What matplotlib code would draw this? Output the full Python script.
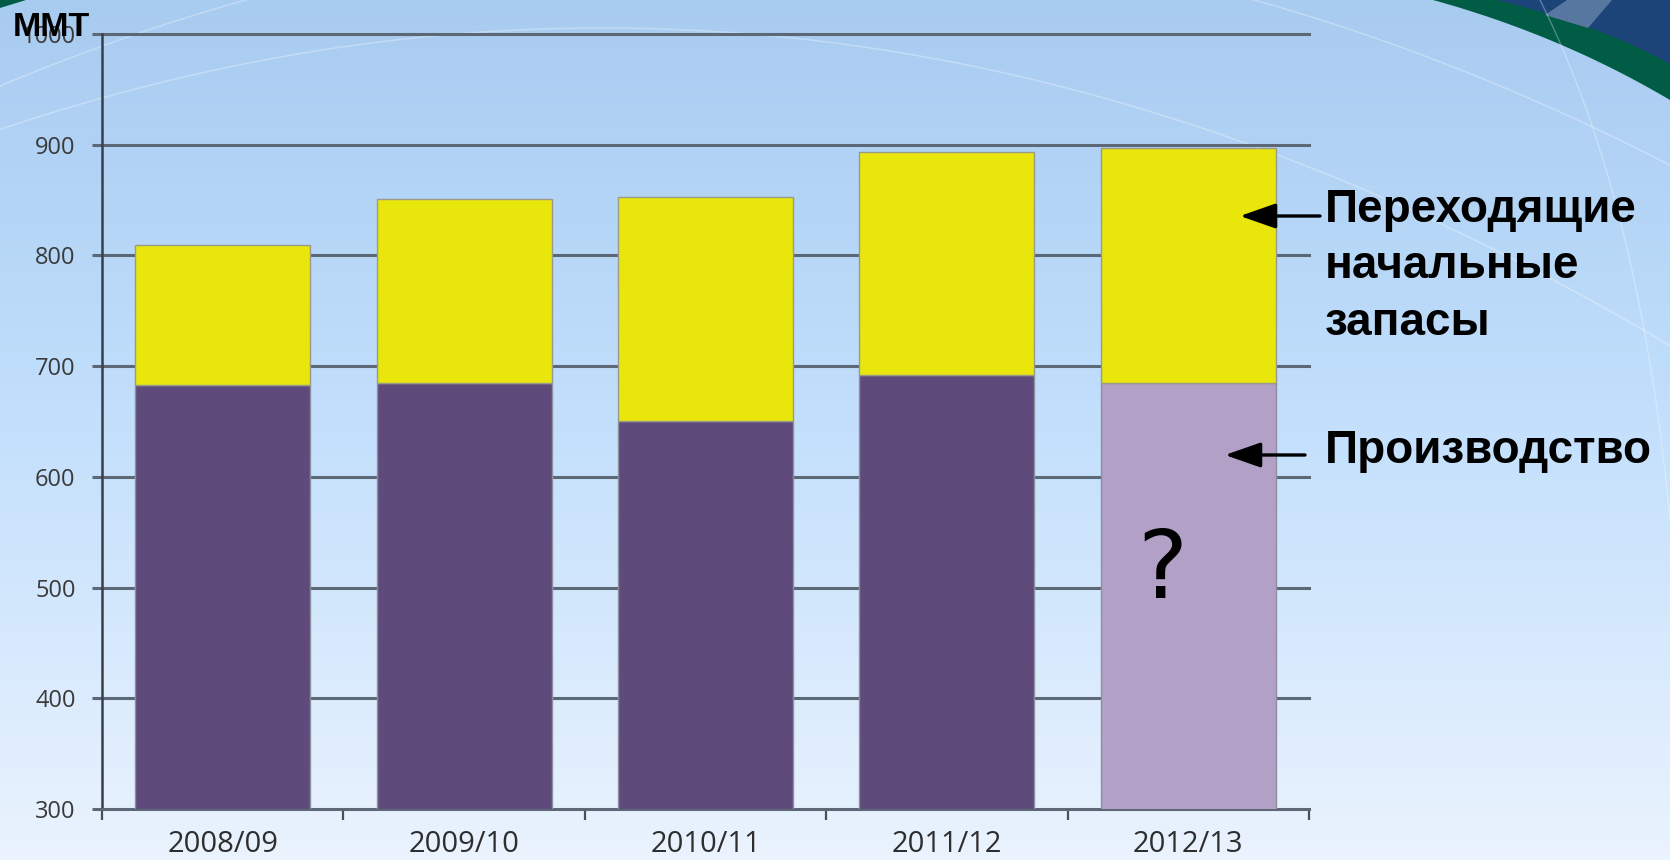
import numpy as np
import matplotlib
matplotlib.use("Agg")
import matplotlib.pyplot as plt
from matplotlib.patches import Polygon, FancyArrowPatch
from matplotlib.colors import LinearSegmentedColormap

# ---------------- data ----------------
seasons = ['2008/09', '2009/10', '2010/11', '2011/12', '2012/13']
production = [683, 685, 650, 692, 685]          # ММТ
carryover = [126, 166, 203, 201, 212]           # начальные запасы
forecast = [False, False, False, False, True]
yticks = [300, 400, 500, 600, 700, 800, 900, 1000]
unit_label = 'ММТ'
label_stocks = ['Переходящие', 'начальные', 'запасы']
label_prod = 'Производство'
question = '?'

W, H = 1670, 860
fig = plt.figure(figsize=(W / 100, H / 100), dpi=100)

# ---------------- background ----------------
bg = fig.add_axes([0, 0, 1, 1], zorder=-10)
cmap = LinearSegmentedColormap.from_list(
    'bg', [(0.0, '#A8CBF0'), (0.45, '#C0DEFC'), (1.0, '#EAF3FE')])
grad = np.linspace(0, 1, 256)[:, None]
bg.imshow(grad, aspect='auto', cmap=cmap, extent=[0, W, H, 0], interpolation='bilinear')
bg.set_xlim(0, W)
bg.set_ylim(H, 0)
bg.axis('off')


def qcurve(p0, p1, p2, n=80):
    t = np.linspace(0, 1, n)[:, None]
    p0, p1, p2 = map(np.array, (p0, p1, p2))
    return (1 - t) ** 2 * p0 + 2 * (1 - t) * t * p1 + t ** 2 * p2

# faint white arcs (decoration of the slide background)
xs = np.linspace(0, W, 400)
for y0, c in [(-71, 750), (28, 603)]:
    ys = y0 + 2.79e-4 * (xs - c) ** 2
    bg.plot(xs, ys, color='white', lw=1.1, alpha=0.3)
pts = qcurve((1540, 0), (1640, 200), (1670, 520))
bg.plot(pts[:, 0], pts[:, 1], color='white', lw=1.0, alpha=0.3)

# top-right decoration: dark blue + green band
green_low = qcurve((1433, 0), (1560, 35), (1670, 100))
green_up = qcurve((1497, 0), (1600, 25), (1670, 64))
bg.add_patch(Polygon(np.vstack([green_low, [[1670, 0]]]), closed=True,
                     facecolor='#005C45', edgecolor='none'))
bg.add_patch(Polygon(np.vstack([green_up, [[1670, 0]]]), closed=True,
                     facecolor='#1C4479', edgecolor='none'))
bg.add_patch(Polygon([[1545, 15], [1567, 0], [1612, 0], [1588, 28]], closed=True,
                     facecolor='#5877A0', edgecolor='none'))
# top-left tiny green corner
bg.add_patch(Polygon([[0, 0], [26, 0], [0, 8]], closed=True,
                     facecolor='#005C45', edgecolor='none'))

# ---------------- main chart ----------------
x0, x1, ytop, ybot = 102, 1309, 34, 809
ax = fig.add_axes([x0 / W, 1 - ybot / H, (x1 - x0) / W, (ybot - ytop) / H])
ax.set_facecolor('none')

x = np.arange(len(seasons))
prod_colors = ['#B2A0C7' if f else '#5E4A7B' for f in forecast]
bw = 0.725
ax.bar(x, production, width=bw, color=prod_colors, edgecolor='#8E8E9E', lw=1, zorder=3)
ax.bar(x, carryover, width=bw, bottom=production, color='#E8E60A',
       edgecolor='#9A9A8A', lw=1, zorder=3)

ax.set_xlim(-0.5, len(seasons) - 0.5)
ax.set_ylim(yticks[0], yticks[-1])
ax.set_yticks(yticks)
ax.yaxis.grid(True, color='#5D6877', lw=2.2)
ax.set_axisbelow(True)
for gl in ax.get_ygridlines():
    gl.set_clip_on(False)

ax.set_xticks(x)
ax.set_xticklabels(seasons)
ax.set_xticks(np.arange(-0.5, len(seasons)), minor=True)
ax.tick_params(axis='x', which='major', length=0, pad=15, labelsize=21, labelcolor='#2E2E2E')
ax.tick_params(axis='x', which='minor', length=8, width=1.6, color='#4A4F57')
ax.tick_params(axis='y', length=7, width=2.2, color='#5D6877', pad=12,
               labelsize=17, labelcolor='#3A3A3A')
for lab in ax.get_xticklabels() + ax.get_yticklabels():
    lab.set_family('Open Sans')

for s in ('top', 'right'):
    ax.spines[s].set_visible(False)
ax.spines['left'].set_color('#3A3F47')
ax.spines['left'].set_linewidth(1.8)
ax.spines['bottom'].set_color('#5D6877')
ax.spines['bottom'].set_linewidth(2.0)

# ---------------- texts ----------------
fig.text(13 / W, 1 - 36 / H, unit_label, fontsize=24.5, fontweight='bold',
         family='Liberation Sans', va='baseline', ha='left', color='black', zorder=5)

for txt, yb in zip(label_stocks, [222, 278, 335]):
    fig.text(1325 / W, 1 - yb / H, txt, fontsize=33, fontweight='bold',
             family='Liberation Sans', va='baseline', ha='left', color='black')
fig.text(1325 / W, 1 - 463 / H, label_prod, fontsize=33, fontweight='bold',
         family='Liberation Sans', va='baseline', ha='left', color='black')

fig.text(1162 / W, 1 - 598 / H, question, fontsize=68, family='DejaVu Sans',
         va='baseline', ha='center', color='black')

for (xa, xb, yy) in [(1320, 1240, 216), (1305, 1225, 455)]:
    arr = FancyArrowPatch(posA=(xa / W, 1 - yy / H), posB=(xb / W, 1 - yy / H),
                          transform=fig.transFigure,
                          arrowstyle='-|>,head_length=1.0,head_width=0.35',
                          mutation_scale=22, lw=2.4, color='black',
                          shrinkA=0, shrinkB=0)
    fig.add_artist(arr)

fig.savefig('out.png', dpi=100)
